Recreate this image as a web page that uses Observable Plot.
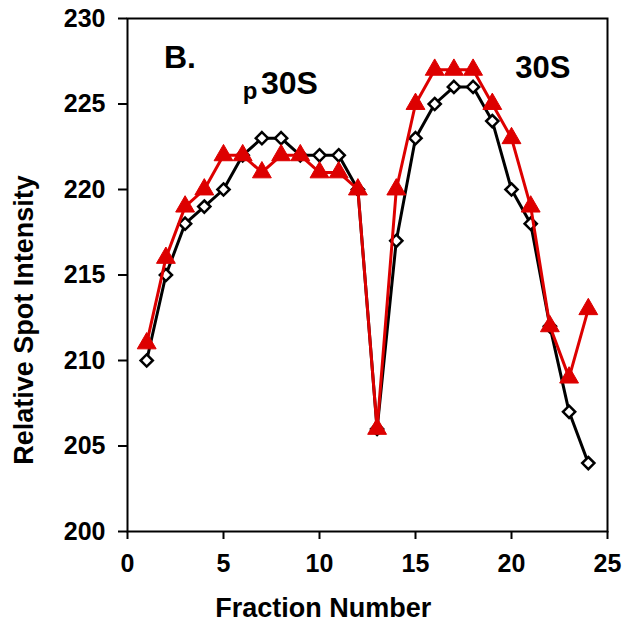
<!DOCTYPE html>
<html>
<head>
<meta charset="utf-8">
<script src="https://cdn.jsdelivr.net/npm/d3@7"></script>
<script src="https://cdn.jsdelivr.net/npm/@observablehq/plot@0.6"></script>
<style>
  html, body { margin: 0; padding: 0; background: #fff; }
  svg { font-family: "Liberation Sans", Arial, sans-serif; }
</style>
</head>
<body>
<div id="chart"></div>
<script>
const fractions = [1,2,3,4,5,6,7,8,9,10,11,12,13,14,15,16,17,18,19,20,21,22,23,24];
const blackSeries = [210,215,218,219,220,222,223,223,222,222,222,220,206,217,223,225,226,226,224,220,218,212,207,204];
const redSeries   = [211,216,219,220,222,222,221,222,222,221,221,220,206,220,225,227,227,227,225,223,219,212,209,213];
const xTicks = [0,5,10,15,20,25];
const yTicks = [200,205,210,215,220,225,230];
const annotations = [
  {x: 1.9, y: 227.1, text: "B.", size: 32},
  {x: 20.2, y: 226.5, text: "30S", size: 31},
  {x: 6.95, y: 225.6, text: "30S", size: 32},
  {x: 6.0, y: 225.3, text: "p", size: 24}
];

const black = fractions.map((f, i) => ({f, v: blackSeries[i]}));
const red = fractions.map((f, i) => ({f, v: redSeries[i]}));
const RED = "#dd0000";

const chart = Plot.plot({
  width: 624,
  height: 624,
  marginLeft: 127,
  marginRight: 17,
  marginTop: 18,
  marginBottom: 93,
  style: {fontFamily: "Liberation Sans, Arial, sans-serif", background: "#fff"},
  x: {domain: [0, 25], ticks: xTicks},
  y: {domain: [200, 230], ticks: yTicks},
  marks: [
    Plot.frame({stroke: "#000", strokeWidth: 2}),
    Plot.axisX({ticks: xTicks, tickSize: 8, tickPadding: 15, tickFormat: d => d, fontSize: 25, fontWeight: "bold", label: null, strokeWidth: 2}),
    Plot.axisY({ticks: yTicks, tickSize: 9, tickPadding: 13, tickFormat: d => d, fontSize: 25, fontWeight: "bold", label: null, strokeWidth: 2}),
    Plot.text(["Fraction Number"], {x: 10.2, frameAnchor: "bottom", dy: 85, lineAnchor: "bottom", fontSize: 27, fontWeight: "bold", fill: "#000"}),
    Plot.text(["Relative Spot Intensity"], {frameAnchor: "left", textAnchor: "middle", dx: -103, dy: 45, rotate: -90, fontSize: 27, fontWeight: "bold", fill: "#000"}),
    Plot.line(black, {x: "f", y: "v", stroke: "#000", strokeWidth: 3}),
    Plot.dot(black, {x: "f", y: "v", symbol: "diamond2", r: 5.5, fill: "#fff", stroke: "#000", strokeWidth: 2.5}),
    Plot.line(red, {x: "f", y: "v", stroke: RED, strokeWidth: 3}),
    Plot.dot(red, {x: "f", y: "v", symbol: "triangle", r: 7, fill: RED, stroke: RED, strokeWidth: 1}),
    Plot.text(annotations, {x: "x", y: "y", text: "text", fontSize: "size", textAnchor: "start", lineAnchor: "bottom", fontWeight: "bold", fill: "#000"})
  ]
});
document.getElementById("chart").appendChild(chart);
</script>
</body>
</html>
